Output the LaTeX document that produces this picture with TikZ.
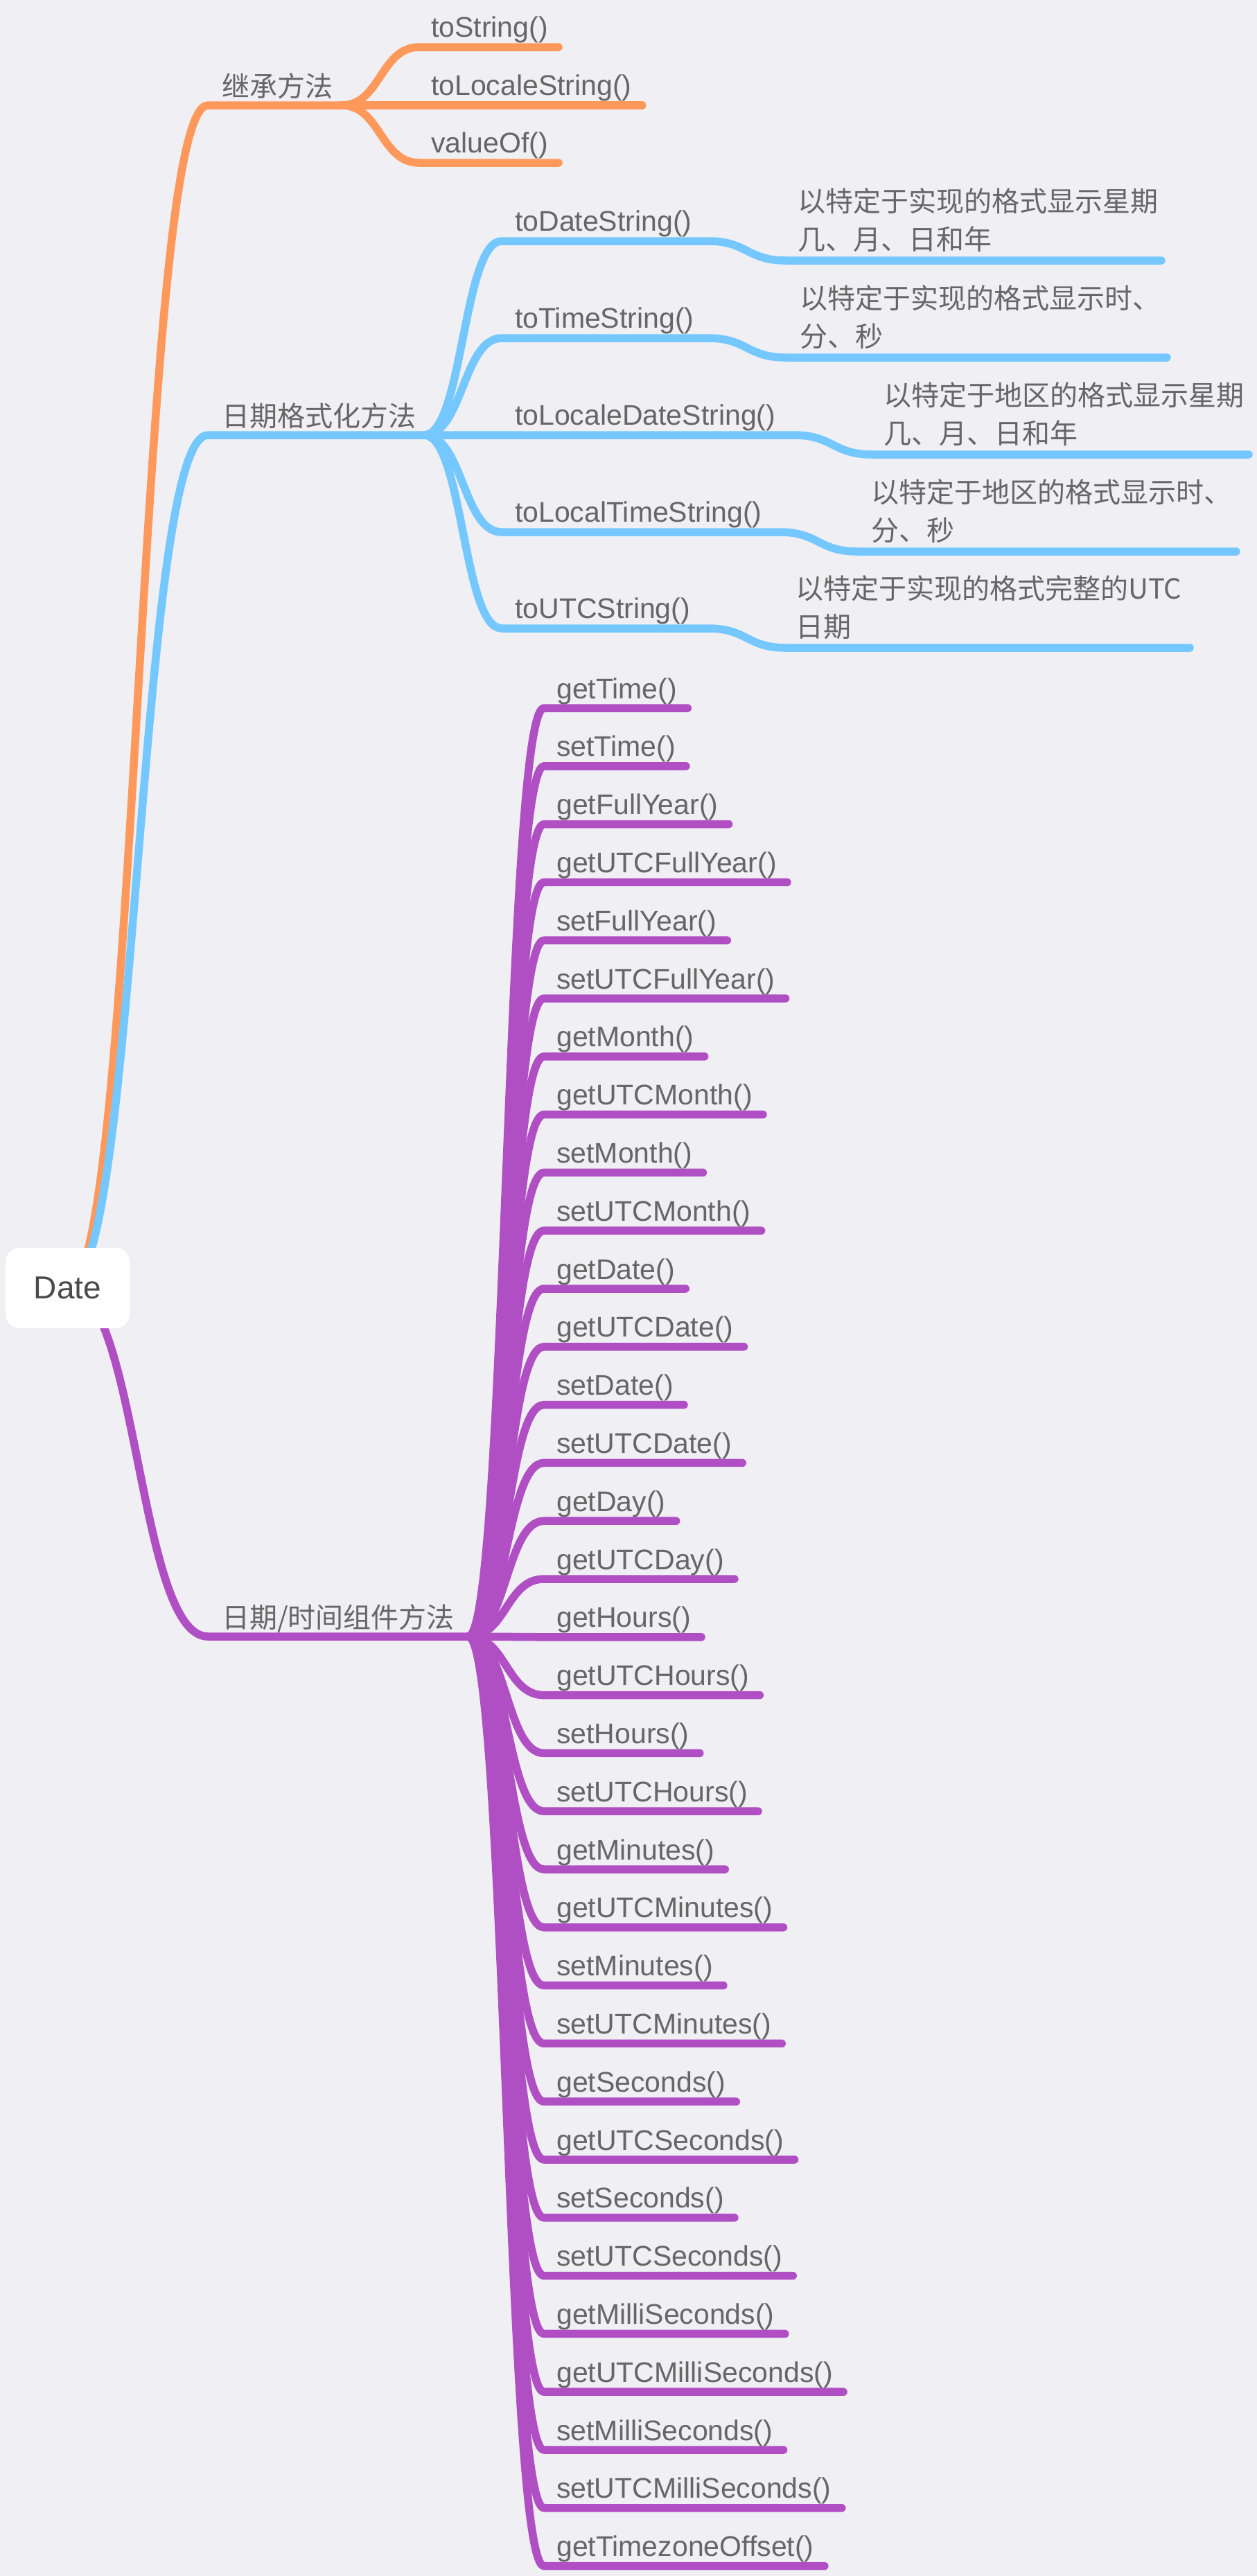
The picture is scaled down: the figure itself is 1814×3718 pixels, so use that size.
\documentclass[tikz,border=0pt]{standalone}
\usepackage{fontspec}
\setmainfont{Liberation Sans}
\newfontfamily\cjk{Noto Sans CJK SC}
\usetikzlibrary{calc}
\definecolor{bgc}{HTML}{EFEFF4}
\definecolor{orangeC}{HTML}{FF985B}
\definecolor{blueC}{HTML}{74C8FF}
\definecolor{purpleC}{HTML}{B04FC4}
\definecolor{txt}{HTML}{666666}
\definecolor{rootTxt}{HTML}{4A4A4A}
\pgfdeclarelayer{back}
\pgfdeclarelayer{bg}
\pgfsetlayers{back,bg,main}
\tikzset{
  branchline/.style={line width=11.5pt, line cap=round, line join=round},
  lt/.style={inner sep=0pt, anchor=base west, text=txt, font=\fontsize{41}{49}\selectfont},
  ct/.style={inner sep=0pt, anchor=base west, text=txt, font=\cjk\fontsize{40}{48}\selectfont},
  rootnode/.style={fill=white, rounded corners=20pt, minimum width=179pt, minimum height=116pt,
    inner sep=0pt, text=rootTxt, font=\fontsize{46}{55}\selectfont}
}
\begin{document}
\begin{tikzpicture}[x=1pt,y=-1pt]
\begin{pgfonlayer}{back}
\fill[bgc] (0,0) rectangle (1814,3718);
\end{pgfonlayer}
\useasboundingbox (0,0) rectangle (1814,3718);

% root
\node[rootnode] (date) at (97.5,1859) {Date};

% ---------- orange branch ----------
\node[ct] (inh) at (320,139) {继承方法};
\coordinate (oJ) at (493,152);
\node[lt] (o1) at (622,53) {toString()};
\node[lt] (o2) at (622,137) {toLocaleString()};
\node[lt] (o3) at (622,220) {valueOf()};
\begin{pgfonlayer}{bg}
\draw[branchline, orangeC] (date.center) .. controls (199,1858) and (199,152) .. (300,152) -- (oJ);
\draw[branchline, orangeC] (oJ) .. controls (549,152) and (549,68) .. (605,68) -- ([shift={(15,15)}]o1.base east);
\draw[branchline, orangeC] (oJ) -- ([shift={(15,15)}]o2.base east);
\draw[branchline, orangeC] (oJ) .. controls (549,152) and (549,235) .. (605,235) -- ([shift={(15,15)}]o3.base east);
\end{pgfonlayer}

% ---------- blue branch ----------
\node[ct] (fmt) at (320,615) {日期格式化方法};
\coordinate (bJ) at (612,628);
\node[lt] (b1) at (743,333) {toDateString()};
\node[lt] (b2) at (743,473) {toTimeString()};
\node[lt] (b3) at (743,613) {toLocaleDateString()};
\node[lt] (b4) at (743,753) {toLocalTimeString()};
\node[lt] (b5) at (743,892) {toUTCString()};

\node[ct] (d1a) at (1151,305) {以特定于实现的格式显示星期};
\node[ct] (d1b) at (1151,360) {几、月、日和年};
\node[ct] (d2a) at (1154,445) {以特定于实现的格式显示时、};
\node[ct] (d2b) at (1154,500) {分、秒};
\node[ct] (d3a) at (1275,585) {以特定于地区的格式显示星期};
\node[ct] (d3b) at (1275,640) {几、月、日和年};
\node[ct] (d4a) at (1257,725) {以特定于地区的格式显示时、};
\node[ct] (d4b) at (1257,780) {分、秒};
\node[ct] (d5a) at (1148,864) {以特定于实现的格式完整的UTC};
\node[ct] (d5b) at (1148,919) {日期};

\coordinate (e1) at (1676,376);
\coordinate (e2) at (1684,516);
\coordinate (e3) at (1802,656);
\coordinate (e4) at (1784,796);
\coordinate (e5) at (1717,935);

\begin{pgfonlayer}{bg}
\draw[branchline, blueC] (date.center) .. controls (199,1858) and (199,628) .. (300,628) -- (bJ);
\draw[branchline, blueC] (bJ) .. controls (668,628) and (668,348) .. (724,348) -- (1022,348)
   .. controls (1078,348) and (1078,376) .. (1134,376) -- (e1);
\draw[branchline, blueC] (bJ) .. controls (668,628) and (668,488) .. (724,488) -- (1022,488)
   .. controls (1078,488) and (1078,516) .. (1134,516) -- (e2);
\draw[branchline, blueC] (bJ) -- (1146,628)
   .. controls (1202,628) and (1202,656) .. (1258,656) -- (e3);
\draw[branchline, blueC] (bJ) .. controls (668,628) and (668,768) .. (724,768) -- (1126,768)
   .. controls (1181,768) and (1181,796) .. (1237,796) -- (e4);
\draw[branchline, blueC] (bJ) .. controls (668,628) and (668,907) .. (724,907) -- (1022,907)
   .. controls (1078,907) and (1078,935) .. (1134,935) -- (e5);
\end{pgfonlayer}

% ---------- purple branch ----------
\node[ct] (comp) at (320,2349) {日期/时间组件方法};
\coordinate (pJ) at (676,2362);
\begin{pgfonlayer}{bg}
\draw[branchline, purpleC] (date.center) .. controls (199,1858) and (199,2362) .. (300,2362) -- (pJ);
\end{pgfonlayer}
\foreach \lbl [count=\i from 0] in {getTime(),setTime(),getFullYear(),getUTCFullYear(),setFullYear(),setUTCFullYear(),getMonth(),getUTCMonth(),setMonth(),setUTCMonth(),getDate(),getUTCDate(),setDate(),setUTCDate(),getDay(),getUTCDay(),getHours(),getUTCHours(),setHours(),setUTCHours(),getMinutes(),getUTCMinutes(),setMinutes(),setUTCMinutes(),getSeconds(),getUTCSeconds(),setSeconds(),setUTCSeconds(),getMilliSeconds(),getUTCMilliSeconds(),setMilliSeconds(),setUTCMilliSeconds(),getTimezoneOffset()}{
  \pgfmathsetmacro{\yy}{1022+83.8*\i}
  \node[lt] (p\i) at (803,\yy-14) {\lbl};
  \begin{pgfonlayer}{bg}
  \draw[branchline, purpleC] (pJ) .. controls (730.5,2362) and (730.5,\yy) .. (785,\yy) -- ([shift={(15,14)}]p\i.base east);
  \end{pgfonlayer}
}
\end{tikzpicture}
\end{document}
